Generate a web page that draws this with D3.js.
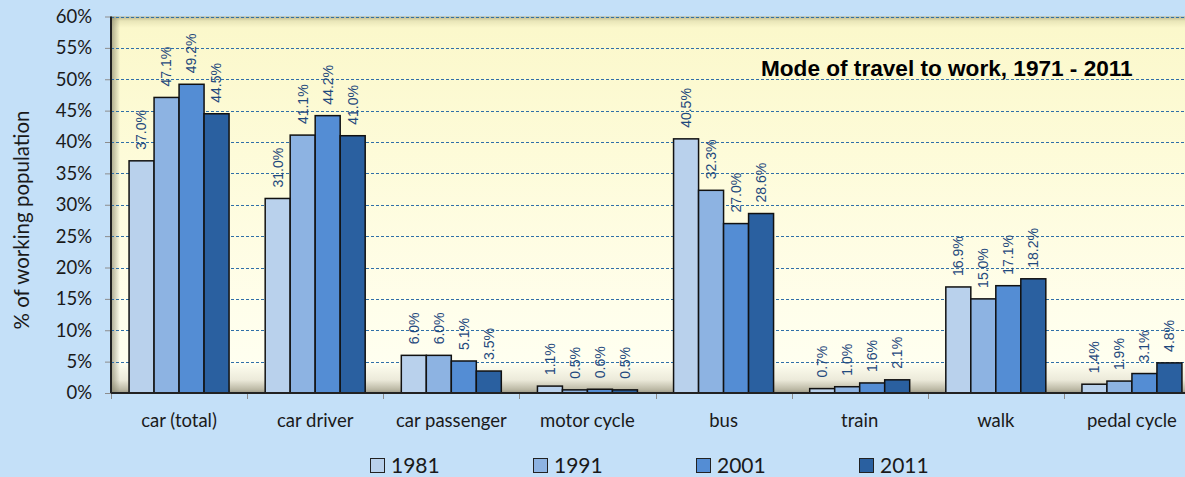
<!DOCTYPE html>
<html>
<head>
<meta charset="utf-8">
<script src="https://cdn.jsdelivr.net/npm/d3@7"></script>
<style>
  body { margin: 0; background: #c4e0f8; }
  svg { display: block; }
</style>
</head>
<body>
<div id="chart"></div>
<script>
var svgWidth = 1185;
var svgHeight = 477;

// chart data
var modes = ["car (total)", "car driver", "car passenger", "motor cycle", "bus", "train", "walk", "pedal cycle"];
var years = ["1981", "1991", "2001", "2011"];
var share1981 = [37.0, 31.0, 6.0, 1.1, 40.5, 0.7, 16.9, 1.4];
var share1991 = [47.1, 41.1, 6.0, 0.5, 32.3, 1.0, 15.0, 1.9];
var share2001 = [49.2, 44.2, 5.1, 0.6, 27.0, 1.6, 17.1, 3.1];
var share2011 = [44.5, 41.0, 3.5, 0.5, 28.6, 2.1, 18.2, 4.8];
var yTicks = [0, 5, 10, 15, 20, 25, 30, 35, 40, 45, 50, 55, 60];
var chartTitle = "Mode of travel to work, 1971 - 2011";
var yTitle = "% of working population";

var series = [share1981, share1991, share2001, share2011];
var colors = ["#b9d1ec", "#8db3e2", "#548dd4", "#2a60a0"];

var plot = { left: 111, right: 1200, top: 16.5, bottom: 393 };

var svg = d3.select("#chart")
  .append("svg")
  .attr("width", svgWidth)
  .attr("height", svgHeight);

var defs = svg.append("defs");

var vGrad = defs.append("linearGradient")
  .attr("id", "plotBg")
  .attr("x1", 0).attr("y1", 0).attr("x2", 0).attr("y2", 1);
[[0, "#b9b58e"], [0.012, "#e9e6b8"], [0.03, "#fbf8cb"], [0.35, "#fdfbd8"], [0.75, "#fffeea"],
 [0.92, "#fffff0"], [0.965, "#eceada"], [0.99, "#bdbaa6"], [1, "#9c9987"]].forEach(function(s) {
  vGrad.append("stop").attr("offset", s[0]).attr("stop-color", s[1]);
});

var hGrad = defs.append("linearGradient")
  .attr("id", "leftShade")
  .attr("x1", 0).attr("y1", 0).attr("x2", 1).attr("y2", 0);
hGrad.append("stop").attr("offset", 0).attr("stop-color", "#7d7a60").attr("stop-opacity", 0.65);
hGrad.append("stop").attr("offset", 1).attr("stop-color", "#7d7a60").attr("stop-opacity", 0);

var x0 = d3.scaleBand()
  .domain(modes)
  .range([plot.left, plot.right])
  .paddingInner(0)
  .paddingOuter(0);

var x1 = d3.scaleBand()
  .domain(years)
  .range([0, 100]);

var y = d3.scaleLinear()
  .domain([0, 60])
  .range([plot.bottom, plot.top]);

// plot background
svg.append("rect")
  .attr("x", plot.left)
  .attr("y", plot.top)
  .attr("width", plot.right - plot.left)
  .attr("height", plot.bottom - plot.top)
  .attr("fill", "url(#plotBg)");

svg.append("rect")
  .attr("x", plot.left)
  .attr("y", plot.top)
  .attr("width", 9)
  .attr("height", plot.bottom - plot.top)
  .attr("fill", "url(#leftShade)");

// gridlines
svg.append("g")
  .selectAll("line")
  .data(yTicks.filter(function(d) { return d > 0; }))
  .enter()
  .append("line")
  .attr("x1", plot.left)
  .attr("x2", plot.right)
  .attr("y1", function(d) { return Math.round(y(d)) + 0.5; })
  .attr("y2", function(d) { return Math.round(y(d)) + 0.5; })
  .attr("stroke", "#2f6fa8")
  .attr("stroke-width", 1)
  .attr("stroke-dasharray", "3,2");

// y axis
var leftAxis = d3.axisLeft(y)
  .tickValues(yTicks)
  .tickSize(6)
  .tickPadding(13)
  .tickFormat(function(d) { return d + "%"; });

var yAxisG = svg.append("g")
  .attr("transform", "translate(" + plot.left + ",0)")
  .call(leftAxis);
yAxisG.select(".domain").remove();
yAxisG.selectAll(".tick line").attr("stroke", "#8c8c8c");
yAxisG.selectAll("text")
  .attr("font-family", "Lato, sans-serif")
  .attr("font-size", "18.5px")
  .attr("fill", "#1a1a1a");

// x axis
var bottomAxis = d3.axisBottom(x0)
  .tickSize(0)
  .tickPadding(21);

var xAxisG = svg.append("g")
  .attr("transform", "translate(0," + plot.bottom + ")")
  .call(bottomAxis);
xAxisG.select(".domain").remove();
xAxisG.selectAll("text")
  .attr("font-family", "Lato, sans-serif")
  .attr("font-size", "18.5px")
  .attr("fill", "#1a1a1a");

// category separator ticks
svg.append("g")
  .selectAll("line")
  .data(modes.concat(["end"]))
  .enter()
  .append("line")
  .attr("x1", function(d, i) { return Math.round(plot.left + i * x0.step()) + 0.5; })
  .attr("x2", function(d, i) { return Math.round(plot.left + i * x0.step()) + 0.5; })
  .attr("y1", plot.bottom)
  .attr("y2", plot.bottom + 6)
  .attr("stroke", "#8c8c8c");

// bars
var groups = svg.append("g")
  .selectAll("g")
  .data(modes)
  .enter()
  .append("g")
  .attr("transform", function(d) {
    return "translate(" + (x0(d) + x0.bandwidth() / 2 - 50) + ",0)";
  });

groups.selectAll("rect")
  .data(function(d, i) {
    return years.map(function(yr, j) { return { year: yr, value: series[j][i], k: j }; });
  })
  .enter()
  .append("rect")
  .attr("x", function(d) { return x1(d.year); })
  .attr("y", function(d) { return y(d.value); })
  .attr("width", x1.bandwidth())
  .attr("height", function(d) { return plot.bottom - y(d.value); })
  .attr("fill", function(d) { return colors[d.k]; })
  .attr("stroke", "#111")
  .attr("stroke-width", 1.5);

groups.selectAll("text")
  .data(function(d, i) {
    return years.map(function(yr, j) { return { year: yr, value: series[j][i] }; });
  })
  .enter()
  .append("text")
  .attr("transform", function(d) {
    var cx = x1(d.year) + x1.bandwidth() / 2;
    var cy = y(d.value) - 11;
    return "translate(" + cx + "," + cy + ") rotate(-90)";
  })
  .attr("dy", "0.35em")
  .attr("font-family", "Arial, 'Liberation Sans', sans-serif")
  .attr("font-size", "14px")
  .attr("fill", "#1f497d")
  .text(function(d) { return d.value.toFixed(1) + "%"; });

// axis lines
svg.append("line")
  .attr("x1", plot.left).attr("x2", plot.right)
  .attr("y1", plot.bottom).attr("y2", plot.bottom)
  .attr("stroke", "#222").attr("stroke-width", 2);
svg.append("line")
  .attr("x1", plot.left).attr("x2", plot.left)
  .attr("y1", plot.top).attr("y2", plot.bottom)
  .attr("stroke", "#222").attr("stroke-width", 2);

// title inside plot
svg.append("text")
  .attr("x", 761)
  .attr("y", 76)
  .attr("font-family", "Arial, 'Liberation Sans', sans-serif")
  .attr("font-weight", "bold")
  .attr("font-size", "22.6px")
  .attr("fill", "#000")
  .text(chartTitle);

// y axis title
svg.append("text")
  .attr("transform", "translate(29,220) rotate(-90)")
  .attr("text-anchor", "middle")
  .attr("font-family", "Lato, sans-serif")
  .attr("font-size", "20.5px")
  .attr("fill", "#1a1a1a")
  .text(yTitle);

// legend
var legend = svg.append("g")
  .selectAll("g")
  .data(years)
  .enter()
  .append("g")
  .attr("transform", function(d, i) { return "translate(" + (370 + i * 163) + ",458)"; });

legend.append("rect")
  .attr("x", 0.5)
  .attr("y", 0.5)
  .attr("width", 14)
  .attr("height", 14)
  .attr("fill", function(d, i) { return colors[i]; })
  .attr("stroke", "#222")
  .attr("stroke-width", 1);

legend.append("text")
  .attr("x", 21)
  .attr("y", 14.5)
  .attr("font-family", "Lato, sans-serif")
  .attr("font-size", "21px")
  .attr("fill", "#1a1a1a")
  .text(function(d) { return d; });
</script>
</body>
</html>
